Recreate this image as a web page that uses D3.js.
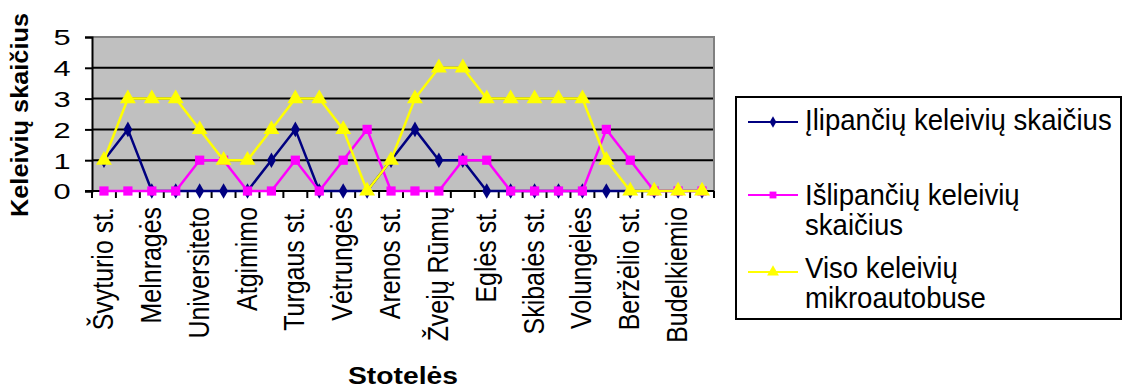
<!DOCTYPE html>
<html><head><meta charset="utf-8">
<script src="https://cdn.jsdelivr.net/npm/d3@7/dist/d3.min.js"></script>
<style>body{margin:0;background:#fff;} text{font-family:"Liberation Sans",Arial,sans-serif;}</style>
</head><body>
<svg id="c" width="1124" height="390"></svg>
<script>
// 26 stops; only every other stop name is printed on the axis
const categories = ["Švyturio st.","","Melnragės","","Universiteto","","Atgimimo","","Turgaus st.","","Vėtrungės","","Arenos st.","","Žvejų Rūmų","","Eglės st.","","Skibalės st.","","Volungėlės","","Beržėlio st.","","Budelkiemio",""];
const boarding  = [1,2,0,0,0,0,0,1,2,0,0,0,1,2,1,1,0,0,0,0,0,0,0,0,0,0];
const alighting = [0,0,0,0,1,1,0,0,1,0,1,2,0,0,0,1,1,0,0,0,0,2,1,0,0,0];
const onboard   = [1,3,3,3,2,1,1,2,3,3,2,0,1,3,4,4,3,3,3,3,3,1,0,0,0,0];
const yTicks = [0,1,2,3,4,5];
const legendLines = [["Įlipančių keleivių skaičius"],["Išlipančių keleivių","skaičius"],["Viso keleivių","mikroautobuse"]];

const svg = d3.select("#c");
const L=92, R=714, T=37, B=191;
const idx = d3.range(categories.length);
const x = d3.scaleBand().domain(idx).range([L,R]);
const y = d3.scaleLinear().domain([0,5]).range([B,T]);
const cx = i => x(i) + x.bandwidth()/2;

svg.append("rect").attr("x",L).attr("y",T).attr("width",R-L).attr("height",B-T).attr("fill","#c0c0c0");
// gridlines
svg.append("g").selectAll("line").data(yTicks.filter(d=>d>0&&d<5)).join("line")
  .attr("x1",L).attr("x2",R).attr("y1",d=>y(d)).attr("y2",d=>y(d)).attr("stroke","#000").attr("stroke-width",2);
// top/right border
svg.append("path").attr("d",`M${L},${T}H${R}V${B}`).attr("fill","none").attr("stroke","#808080").attr("stroke-width",2);

// y axis
const ya = svg.append("g").attr("transform",`translate(${L},0)`)
  .call(d3.axisLeft(y).tickValues(yTicks).tickSize(7).tickFormat(d3.format("d")));
ya.select(".domain").attr("stroke","#000").attr("stroke-width",2);
ya.selectAll(".tick line").attr("stroke","#000").attr("stroke-width",2);
ya.selectAll(".tick text").attr("x",0).attr("dy","0.36em").attr("text-anchor","middle")
  .attr("transform","translate(-30,0) scale(1.4,1)")
  .attr("font-size",22).attr("fill","#000").style("font-family","Liberation Sans, Arial");

// x axis: ticks at band boundaries
const xa = svg.append("g");
xa.append("line").attr("x1",L-7).attr("x2",R).attr("y1",B).attr("y2",B).attr("stroke","#000").attr("stroke-width",2);
xa.selectAll("line.t").data(d3.range(categories.length+1)).join("line").attr("class","t")
  .attr("x1",i=>L + i*x.step()).attr("x2",i=>L + i*x.step()).attr("y1",B).attr("y2",B+7)
  .attr("stroke","#000").attr("stroke-width",2);
xa.selectAll("text").data(idx.filter(i=>categories[i])).join("text")
  .attr("transform",i=>`translate(${cx(i)+9},207) rotate(-90) scale(0.86,1)`)
  .attr("text-anchor","end").attr("font-size",29).attr("fill","#000").text(i=>categories[i]);

// axis titles
svg.append("text").attr("transform",`translate(28,115) rotate(-90)`).attr("text-anchor","middle")
  .attr("font-size",23).attr("font-weight","bold").attr("textLength",204).attr("lengthAdjust","spacingAndGlyphs")
  .text("Keleivių skaičius");
svg.append("text").attr("x",403).attr("y",384).attr("text-anchor","middle")
  .attr("font-size",23).attr("font-weight","bold").attr("textLength",110).attr("lengthAdjust","spacingAndGlyphs")
  .text("Stotelės");

const series = [
  {vals:boarding, color:"#000080", sym:d3.symbolDiamond, size:70},
  {vals:alighting, color:"#ff00ff", sym:d3.symbolSquare, size:85},
  {vals:onboard, color:"#ffff00", sym:d3.symbolTriangle, size:110}
];
const line = d3.line().x((d,i)=>cx(i)).y(d=>y(d));
series.forEach(s=>{
  svg.append("path").datum(s.vals).attr("d",line).attr("fill","none").attr("stroke",s.color).attr("stroke-width",2.5);
  svg.append("g").selectAll("path").data(s.vals).join("path")
    .attr("transform",(d,i)=>`translate(${cx(i)},${y(d)})`)
    .attr("d",d3.symbol().type(s.sym).size(s.size)).attr("fill",s.color);
});

// legend
const lg = svg.append("g");
lg.append("rect").attr("x",736).attr("y",97).attr("width",385).attr("height",222).attr("fill","#fff").attr("stroke","#000").attr("stroke-width",2);
const rowLineY = [122,195,272], rowBase = [130,205,278];
legendLines.forEach((lines,k)=>{
  const s = series[k];
  lg.append("line").attr("x1",748).attr("x2",798).attr("y1",rowLineY[k]).attr("y2",rowLineY[k]).attr("stroke",s.color).attr("stroke-width",2);
  lg.append("path").attr("transform",`translate(773,${rowLineY[k]})`).attr("d",d3.symbol().type(s.sym).size(s.size*0.55)).attr("fill",s.color);
  lines.forEach((t,j)=>{
    lg.append("text").attr("transform",`translate(805,${rowBase[k] + j*30}) scale(0.92,1)`)
      .attr("font-size",30).attr("fill","#000").text(t);
  });
});
</script>
</body></html>
